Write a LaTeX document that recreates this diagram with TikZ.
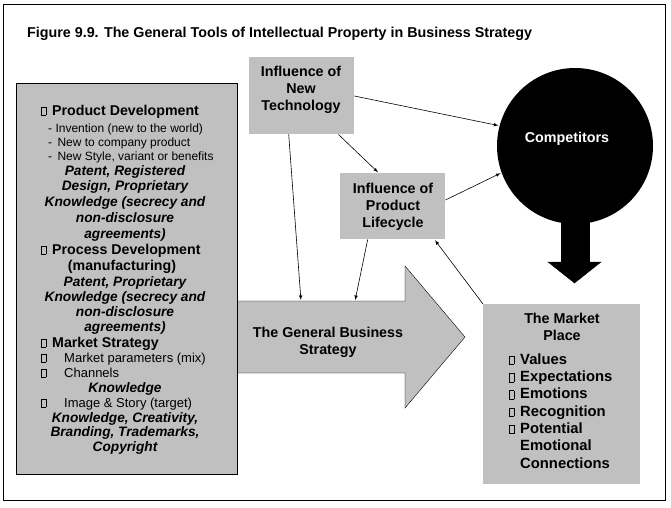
\documentclass[tikz,border=0pt]{standalone}
\usepackage{fontspec}
\setmainfont{Liberation Sans}
\usetikzlibrary{calc,arrows,shapes,positioning}
\definecolor{panel}{RGB}{192,192,192}
\newcommand{\bx}{\mbox{\fboxsep=0pt\fboxrule=0.5pt\fbox{\rule{0pt}{8pt}\rule{4pt}{0pt}}}}
\newcommand{\bxi}{\bx\hspace{6pt}}
\tikzset{
    panelbox/.style={
    rectangle,fill=panel,inner sep=0pt
    },
    boxtext/.style={
    inner sep=0pt,align=center,font=\fontsize{14.3}{17}\selectfont\bfseries
    },
    head/.style={
    inner sep=0pt,anchor=base west,font=\fontsize{14.2}{16}\selectfont\bfseries
    },
    iptext/.style={
    inner sep=0pt,align=center,anchor=base,font=\fontsize{13.7}{#1}\selectfont\bfseries\itshape
    },
    small/.style={
    inner sep=0pt,align=left,anchor=base west,font=\fontsize{#1}{14}\selectfont
    },
    feed/.style={
    ->,>=latex,semithick,shorten >=1pt
    },
}

\begin{document}
\begin{tikzpicture}[x=1pt,y=-1pt]
  \useasboundingbox (0,0) rectangle (671,507);
  \draw[thick] (3,4) rectangle (665,500);
  \node[anchor=base west,inner sep=0pt,font=\fontsize{14.3}{16}\selectfont\bfseries] (title) at (27,37)
    {Figure 9.9. The General Tools of Intellectual Property in Business Strategy};

  % the big arrow
  \draw[fill=panel] (200,301) -- (405,301) -- (405,266) -- (465,337) -- (405,408)
     -- (405,373) -- (200,373) -- cycle;
  \node[boxtext,anchor=base] (strategy) at (328,354) {The General Business\\Strategy};
  \coordinate (in1) at (301,301);
  \coordinate (in2) at (355,301);

  % left box
  \node[panelbox,draw=black,thick,anchor=north west,minimum width=221pt,minimum height=391pt] (tools) at (16,83) {};
  \node[head] (pdhead) at (41,115) {\bxi Product Development};
  \node[small=12] (pdlist) at (48,160) {- Invention (new to the world)\\- \,New to company product\\- \,New Style, variant or benefits};
  \node[iptext=15.75] (pdip) at (125,238) {Patent, Registered\\Design, Proprietary\\Knowledge (secrecy and\\non-disclosure\\agreements)};
  \node[head] (prhead) at (41,254) {\bxi Process Development};
  \node[head,anchor=base] (prmanu) at (122,270) {(manufacturing)};
  \node[iptext=15] (prip) at (125,331) {Patent, Proprietary\\Knowledge (secrecy and\\non-disclosure\\agreements)};
  \node[head] (mshead) at (41,347) {\bxi Market Strategy};
  \node[small=13] (msmix) at (41,362) {\bx\hspace{18pt}Market parameters (mix)};
  \node[small=13] (mschan) at (41,377) {\bx\hspace{18pt}Channels};
  \node[iptext=15] (msknow) at (125,392) {Knowledge};
  \node[small=13] (msimage) at (41,407) {\bx\hspace{18pt}Image \& Story (target)};
  \node[iptext=14.5] (msip) at (125,451) {Knowledge, Creativity,\\Branding, Trademarks,\\Copyright};

  % influences
  \node[panelbox,anchor=north west,minimum width=105pt,minimum height=77pt] (newtech) at (249,57) {};
  \node[boxtext,anchor=base] (newtechtxt) at (301,110) {Influence of\\New\\Technology};
  \node[panelbox,anchor=north west,minimum width=105pt,minimum height=66pt] (cycle) at (340,173) {};
  \node[boxtext,anchor=base] (cycletxt) at (393,227) {Influence of\\Product\\Lifecycle};

  % competitors
  \draw[fill=black] (561,215) rectangle (589,262);
  \draw[fill=black] (548,262) -- (601,262) -- (574.5,283) -- cycle;
  \node[circle,fill=black,minimum size=156pt,inner sep=0pt] (comp) at (575,146) {};
  \node[boxtext,anchor=base,text=white] (comptxt) at (567,142) {Competitors};

  % market place
  \node[panelbox,anchor=north west,minimum width=157pt,minimum height=180pt] (market) at (483,304) {};
  \node[boxtext,anchor=base] (markettxt) at (562,340) {The Market\\Place};
  \node[boxtext,align=left,anchor=base west,font=\fontsize{14.8}{17.3}\selectfont\bfseries] (marketlist) at (509,468)
    {\bxi Values\\ \bxi Expectations\\ \bxi Emotions\\ \bxi Recognition\\ \bxi Potential\\ \hspace{11pt}Emotional\\ \hspace{11pt}Connections};

  \path[feed]
    ([yshift=-39pt]newtech.north east) edge (comp.165)
    ([xshift=-16pt]newtech.south east) edge ([xshift=-14pt]cycle.north)
    ([xshift=-13pt]newtech.south) edge (in1)
    ([xshift=-25pt]cycle.south) edge (in2)
    ([yshift=-27pt]cycle.north east) edge (comp.200)
    (market.north west) edge ([xshift=-11pt]cycle.south east);
\end{tikzpicture}
\end{document}
